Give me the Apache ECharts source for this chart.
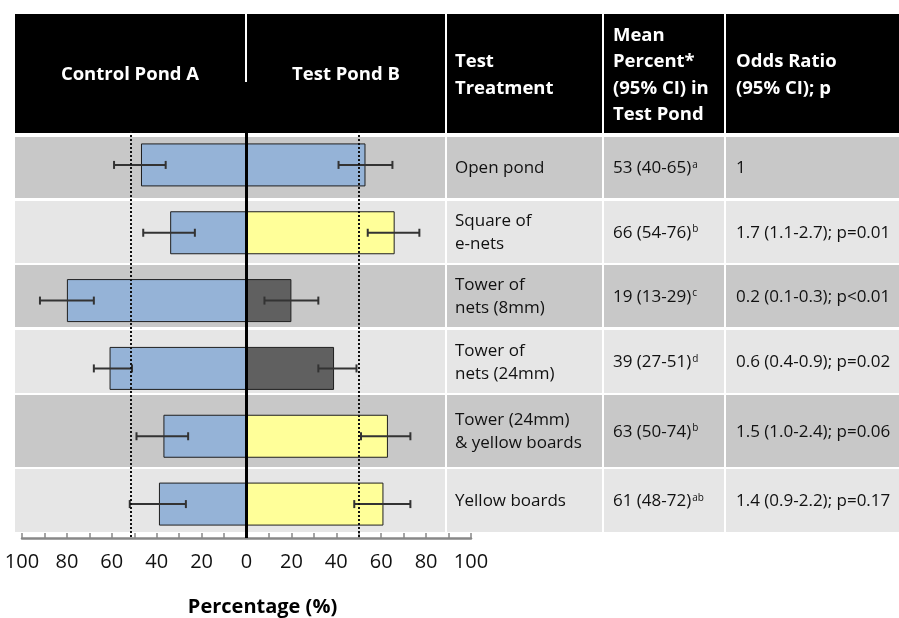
<!DOCTYPE html>
<html>
<head>
<meta charset="utf-8">
<script src="https://cdn.jsdelivr.net/npm/echarts@6/dist/echarts.min.js"></script>
<style>
html,body{margin:0;padding:0;background:#fff;}
#chart{width:899px;height:618px;}
</style>
</head>
<body>
<div id="chart"></div>
<script>
// ---- data ----
const categories = ['Open pond', 'Square of\ne-nets', 'Tower of\nnets (8mm)', 'Tower of\nnets (24mm)', 'Tower (24mm)\n& yellow boards', 'Yellow boards'];
const controlMean = [47, 34, 80, 61, 37, 39];
const controlLow  = [36, 23, 68, 51, 26, 27];
const controlHigh = [59, 46, 92, 68, 49, 52];
const testMean = [53, 66, 20, 39, 63, 61];
const testLow  = [41, 54, 8, 32, 51, 48];
const testHigh = [65, 77, 32, 49, 73, 73];
const testGroup = ['open', 'boards', 'nets', 'nets', 'boards', 'boards'];
const meanText = ['53 (40-65)', '66 (54-76)', '19 (13-29)', '39 (27-51)', '63 (50-74)', '61 (48-72)'];
const meanSup = ['a', 'b', 'c', 'd', 'b', 'ab'];
const oddsText = ['1', '1.7 (1.1-2.7); p=0.01', '0.2 (0.1-0.3); p<0.01', '0.6 (0.4-0.9); p=0.02', '1.5 (1.0-2.4); p=0.06', '1.4 (0.9-2.2); p=0.17'];
const controlRef = 51.5;
const testRef = 50;
const tickLabels = [100, 80, 60, 40, 20, 0, 20, 40, 60, 80, 100];

// ---- styles / layout ----
const groupColor = { open: '#95b3d7', boards: '#ffff99', nets: '#606060' };
const FONT = '"Open Sans", "Liberation Sans", sans-serif';
const rowBounds = [[137, 198], [201, 263], [265, 327], [330, 393], [395, 467], [469, 532]];
const rowFill = ['#c8c8c8', '#e6e6e6'];
const cols = [[15, 444], [447, 601], [604, 723], [726, 899]];

const graphics = [];
// header
graphics.push({ type: 'rect', z: -5, shape: { x: 15, y: 14, width: 884, height: 119 }, style: { fill: '#000' } });
graphics.push({ type: 'rect', z: -4, shape: { x: 245, y: 14, width: 2, height: 68 }, style: { fill: '#fff' } });
[445, 602, 724].forEach(x => graphics.push({ type: 'rect', z: -4, shape: { x: x, y: 14, width: 2, height: 119 }, style: { fill: '#fff' } }));
const hdr = (text, x, y, align) => graphics.push({ type: 'text', z: 5, x: x, y: y,
  style: { text: text, fill: '#fff', font: 'bold 18.5px ' + FONT, align: align, verticalAlign: 'middle', lineHeight: 26.5 } });
hdr('Control Pond A', 130, 75, 'center');
hdr('Test Pond B', 346, 75, 'center');
hdr('Test\nTreatment', 455, 75, 'left');
hdr('Mean\nPercent*\n(95% CI) in\nTest Pond', 613, 75, 'left');
hdr('Odds Ratio\n(95% CI); p', 736, 75, 'left');

// rows
rowBounds.forEach((rb, i) => {
  const fill = rowFill[i % 2];
  cols.forEach(c => graphics.push({ type: 'rect', z: -5, shape: { x: c[0], y: rb[0], width: c[1] - c[0] + 1, height: rb[1] - rb[0] }, style: { fill: fill } }));
  const cy = (rb[0] + rb[1]) / 2 + 1;
  graphics.push({ type: 'text', z: 5, x: 455, y: cy, style: { text: categories[i], fill: '#111', font: '17px ' + FONT, align: 'left', verticalAlign: 'middle', lineHeight: 23 } });
  graphics.push({ type: 'text', z: 5, x: 613, y: cy, style: {
    text: meanText[i] + '{s|' + meanSup[i] + '}', fill: '#111', font: '17px ' + FONT, align: 'left', verticalAlign: 'middle',
    rich: { s: { fontSize: 10, fontFamily: FONT, fill: '#111', verticalAlign: 'top', lineHeight: 12, padding: [0, 0, 0, 1] } } } });
  graphics.push({ type: 'text', z: 5, x: 736, y: cy, style: { text: oddsText[i], fill: '#111', font: '17px ' + FONT, align: 'left', verticalAlign: 'middle' } });
});

function errRender(params, api) {
  const c = api.value(0);
  const p1 = api.coord([api.value(1), c]);
  const p2 = api.coord([api.value(2), c]);
  const h = 4;
  const st = { stroke: '#333', lineWidth: 2 };
  return { type: 'group', children: [
    { type: 'line', shape: { x1: p1[0], y1: p1[1], x2: p2[0], y2: p2[1] }, style: st },
    { type: 'line', shape: { x1: p1[0], y1: p1[1] - h, x2: p1[0], y2: p1[1] + h }, style: st },
    { type: 'line', shape: { x1: p2[0], y1: p2[1] - h, x2: p2[0], y2: p2[1] + h }, style: st }
  ] };
}

const chart = echarts.init(document.getElementById('chart'), null, { renderer: 'canvas' });
chart.setOption({
  animation: false,
  backgroundColor: '#fff',
  graphic: { elements: graphics },
  grid: { left: 22, right: 899 - 471, top: 131, bottom: 618 - 538, containLabel: false, outerBoundsMode: 'none' },
  xAxis: {
    type: 'value', min: -100, max: 100, interval: 10,
    axisLine: { show: true, lineStyle: { color: '#888', width: 2.5 } },
    axisTick: { show: true, inside: true, length: 5, lineStyle: { color: '#888', width: 1.5 } },
    splitLine: { show: false },
    axisLabel: { interval: 1, margin: 14, fontSize: 20, fontFamily: FONT, color: '#111',
      formatter: v => { const idx = Math.round((v + 100) / 20); return (Math.round(v) % 20 === 0) ? String(tickLabels[idx]) : ''; } },
    name: 'Percentage (%)', nameLocation: 'middle', nameGap: 59,
    nameTextStyle: { fontSize: 20, fontWeight: 'bold', fontFamily: FONT, color: '#000', padding: [0, 0, 0, 32] }
  },
  yAxis: {
    type: 'category', data: categories, inverse: true,
    axisLine: { show: false }, axisTick: { show: false }, axisLabel: { show: false }, splitLine: { show: false }
  },
  series: [
    {
      name: 'Control Pond A', type: 'bar', barWidth: 43, barGap: '-100%', z: 2,
      data: controlMean.map(v => -v),
      itemStyle: { color: groupColor.open, borderColor: '#1f1f1f', borderWidth: 1 },
      markLine: {
        silent: true, symbol: ['none', 'none'], label: { show: false }, z: 10,
        data: [
          { xAxis: -controlRef, lineStyle: { type: [2, 2], color: '#111', width: 2 } },
          { xAxis: testRef, lineStyle: { type: [2, 2], color: '#111', width: 2 } },
          { xAxis: 0, lineStyle: { type: 'solid', color: '#000', width: 3 } }
        ]
      }
    },
    {
      name: 'Test Pond B', type: 'bar', barWidth: 43, barGap: '-100%', z: 2,
      data: testMean.map((v, i) => ({ value: v, itemStyle: { color: groupColor[testGroup[i]] } })),
      itemStyle: { borderColor: '#1f1f1f', borderWidth: 1 }
    },
    {
      name: 'Control CI', type: 'custom', renderItem: errRender, z: 5,
      encode: { x: [1, 2], y: 0 },
      data: controlMean.map((v, i) => [i, -controlLow[i], -controlHigh[i]])
    },
    {
      name: 'Test CI', type: 'custom', renderItem: errRender, z: 5,
      encode: { x: [1, 2], y: 0 },
      data: testMean.map((v, i) => [i, testLow[i], testHigh[i]])
    }
  ]
});
</script>
</body>
</html>
